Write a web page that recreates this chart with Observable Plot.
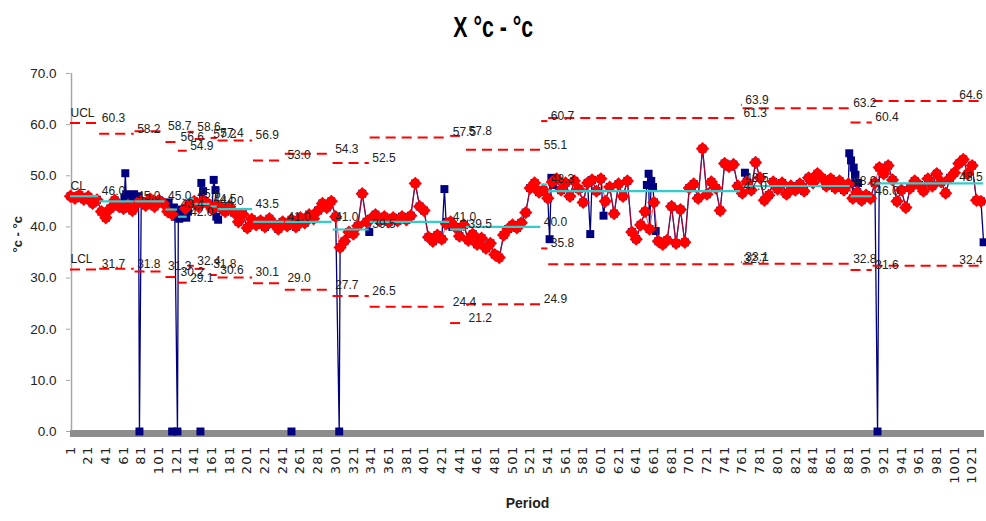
<!DOCTYPE html>
<html><head><meta charset="utf-8">
<script src="https://cdn.jsdelivr.net/npm/d3@7"></script>
<script src="https://cdn.jsdelivr.net/npm/@observablehq/plot@0.6"></script>
<style>
body{margin:0;background:#fff;}
#wrap{position:relative;width:986px;height:521px;overflow:hidden;background:#fff;}
#title{position:absolute;top:12px;left:0;width:986px;text-align:center;font:bold 30px 'Liberation Sans',Arial,sans-serif;line-height:30px;color:#000;}
#title span{display:inline-block;transform:scaleX(0.71);}
#chart{position:absolute;top:50px;left:0;}
</style></head><body>
<div id="wrap"><div id="title"><span>X °c - °c</span></div><div id="chart"></div></div>
<script>
// ---- data ----
const firstPeriod = 1, periodStep = 5;
const redValues = [
46.0,45.6,46.2,45.4,45.9,44.6,45.3,43.0,41.8,43.6,
45.2,44.0,43.6,44.3,43.2,44.6,45.0,44.2,45.5,44.0,
45.2,44.6,43.0,42.5,null,null,43.6,44.5,45.0,44.0,
45.2,44.6,43.5,44.2,43.8,43.0,44.0,42.8,41.0,42.5,
39.8,41.5,40.4,41.2,40.0,41.6,40.6,39.6,41.0,40.2,
41.4,40.0,41.8,40.8,42.4,41.6,43.2,44.6,43.8,45.0,
42.0,36.0,37.2,39.0,38.6,40.2,46.5,41.0,41.6,42.4,
41.2,42.0,41.0,41.8,41.2,42.0,41.4,42.2,48.5,44.0,
43.2,38.0,37.2,38.4,37.6,40.6,41.0,40.0,38.2,40.4,
37.4,38.6,36.6,37.8,35.8,36.8,34.6,34.0,38.4,39.6,
40.4,39.8,40.8,42.8,47.6,48.6,46.8,47.2,45.6,48.8,
49.4,47.2,48.6,46.0,49.0,47.4,44.8,48.6,49.2,47.0,
49.4,45.0,47.8,42.6,48.4,46.0,49.0,39.0,37.6,40.4,
43.0,39.6,44.8,37.2,36.6,37.4,44.0,36.8,43.4,37.0,
47.6,48.4,45.6,55.3,46.4,48.8,47.6,43.2,52.4,51.8,
52.2,48.0,46.6,48.8,47.2,52.6,49.6,45.2,46.2,48.8,
47.4,48.6,46.4,48.0,47.2,48.4,47.0,49.6,48.6,50.4,
49.6,48.0,49.4,47.6,49.0,47.2,48.4,45.6,46.8,45.2,
46.2,45.6,48.6,51.6,50.4,52.0,49.2,45.0,47.2,43.8,
47.6,49.0,48.2,47.0,49.4,48.0,50.4,48.8,46.6,49.6,
50.6,52.4,53.2,50.4,52.0,45.2,45.0
];
const bluePeriods = [62,63,64,67,68,72,73,75,77,78,79,
  112,114,118,119,122,123,124,127,128,132,134,
  149,151,163,165,166,168, 305, 339, 424,427,429,433,
  543,545,547, 589, 604, 653,655,658,660,663, 764,
  882,884,887,889,892, 914, 1034];
const blueValues = [45.8,50.5,46.4,45.8,46.2,45.6,46.4,45.8,45.2,46.0,0,
  44.8,43.2,43.8,42.0,0,42.6,41.6,43.4,42.2,41.8,43.0,
  48.6,47.0,49.2,47.2,42.0,41.4, 0, 39.0, 47.4,41.0,40.4,40.0,
  37.6,49.6,48.2, 38.6, 42.2, 48.2,50.4,49.0,47.8,39.2, 50.6,
  54.4,53.0,51.6,50.2,48.6, 0, 37.0];
const blankPeriods = [116, 148, 251];

const stageEnd = [33,73,108,122,133,141,159,167,207,243,297,339,430,448,533,541,759,761,883,908,1034];
const ucl = [60.3,58.2,58.7,56.6,54.9,58.6,57.2,57.4,56.9,53.0,54.3,52.5,57.5,57.8,55.1,60.7,61.3,63.9,63.2,60.4,64.6];
const cl  = [46.0,45.0,45.0,43.4,42.0,45.5,44.5,44.0,43.5,41.0,41.0,39.5,41.0,39.5,40.0,48.3,47.0,48.5,48.0,46.0,48.5];
const lcl = [31.7,31.8,31.3,30.2,29.1,32.4,31.8,30.6,30.1,29.0,27.7,26.5,24.4,21.2,24.9,35.8,32.7,33.1,32.8,31.6,32.4];

const yTicks = [0,10,20,30,40,50,60,70];
const xTicks = d3.range(1, 1035, 20);

// ---- tables ----
const redData = redValues.map((v,i)=>({p: firstPeriod + i*periodStep, v}));
const blueData = bluePeriods.map((p,i)=>({p, v: blueValues[i]}));
const allData = [...redData.filter(d=>d.v!=null), ...blueData].sort((a,b)=>a.p-b.p);
const blankData = blankPeriods.map(p=>({p, v:0}));
const stages = stageEnd.map((e,i)=>({start: i===0 ? 1 : stageEnd[i-1]+1, end: e, ucl: ucl[i], cl: cl[i], lcl: lcl[i], last: i===stageEnd.length-1}));
const labels = stages.flatMap(s => [
  {p: s.end, v: s.ucl, last: s.last},
  {p: s.end, v: s.cl, last: s.last},
  {p: s.end, v: s.lcl, last: s.last}]);
const names = [{t:"UCL", v: ucl[0]}, {t:"CL", v: cl[0]}, {t:"LCL", v: lcl[0]}];

const chart = Plot.plot({
  width: 986, height: 471,
  marginTop: 23, marginBottom: 90, marginLeft: 70, marginRight: 2,
  style: {fontFamily: "'Liberation Sans', Arial, sans-serif", fontSize: "12px", background: "#fff", color: "#222"},
  x: {domain: [1, 1035]},
  y: {domain: [0, 70]},
  marks: [
    Plot.ruleY([0], {stroke: "#8c8c8c", strokeWidth: 7, dy: 2}),
    Plot.ruleX([1], {y1: 0, y2: 70, stroke: "#a6a6a6", strokeWidth: 1.5, dx: 1}),
    Plot.axisY({ticks: yTicks, tickFormat: d => d.toFixed(1), tickSize: 4, tickPadding: 10, fontSize: 13.5, stroke: "#a6a6a6", color: "#222", label: null}),
    Plot.axisX({ticks: xTicks, tickFormat: d => String(d), tickRotate: -90, tickSize: 0, tickPadding: 14, fontSize: 13, fontFamily: "'DejaVu Sans', sans-serif", color: "#222", label: null}),
    Plot.text(["Period"], {frameAnchor: "bottom", dy: 76, fontSize: 14, fontWeight: 600, fill: "#222"}),
    Plot.text(["°c - °c"], {frameAnchor: "left", dx: -53, rotate: -90, fontSize: 13, fontWeight: 600, fill: "#222"}),
    Plot.line(allData, {x: "p", y: "v", stroke: "#000080", strokeWidth: 1.3}),
    Plot.dot(allData, {x: "p", y: "v", symbol: "square", r: 4.5, fill: "#000080"}),
    Plot.dot(blankData, {x: "p", y: "v", symbol: "square", r: 4.5, fill: "#000080"}),
    Plot.line(redData, {x: "p", y: "v", stroke: "#ff0000", strokeWidth: 1, strokeOpacity: 0.7}),
    Plot.dot(redData, {x: "p", y: "v", symbol: "diamond2", r: 6, fill: "#ff0000"}),
    Plot.ruleY(stages, {x1: "start", x2: "end", y: "ucl", stroke: "#ff0000", strokeWidth: 2, strokeDasharray: "10,6"}),
    Plot.ruleY(stages, {x1: "start", x2: "end", y: "lcl", stroke: "#ff0000", strokeWidth: 2, strokeDasharray: "10,6"}),
    Plot.ruleY(stages, {x1: "start", x2: "end", y: "cl", stroke: "#33cccc", strokeWidth: 2.2}),
    Plot.text(labels.filter(d=>!d.last), {x: "p", y: "v", text: d => d.v.toFixed(1), textAnchor: "start", dx: 3, dy: -5, fontSize: 12, fill: "#222"}),
    Plot.text(labels.filter(d=>d.last), {x: "p", y: "v", text: d => d.v.toFixed(1), textAnchor: "end", dx: -1, dy: -6, fontSize: 12, fill: "#222"}),
    Plot.text(names, {x: 1, y: "v", text: "t", textAnchor: "start", dy: -10, fontSize: 12, fill: "#222"})
  ]
});
chart.querySelectorAll('[aria-label="x-axis tick label"] text').forEach(t => t.style.letterSpacing = "1.3px");
document.getElementById("chart").appendChild(chart);
</script>
</body></html>
